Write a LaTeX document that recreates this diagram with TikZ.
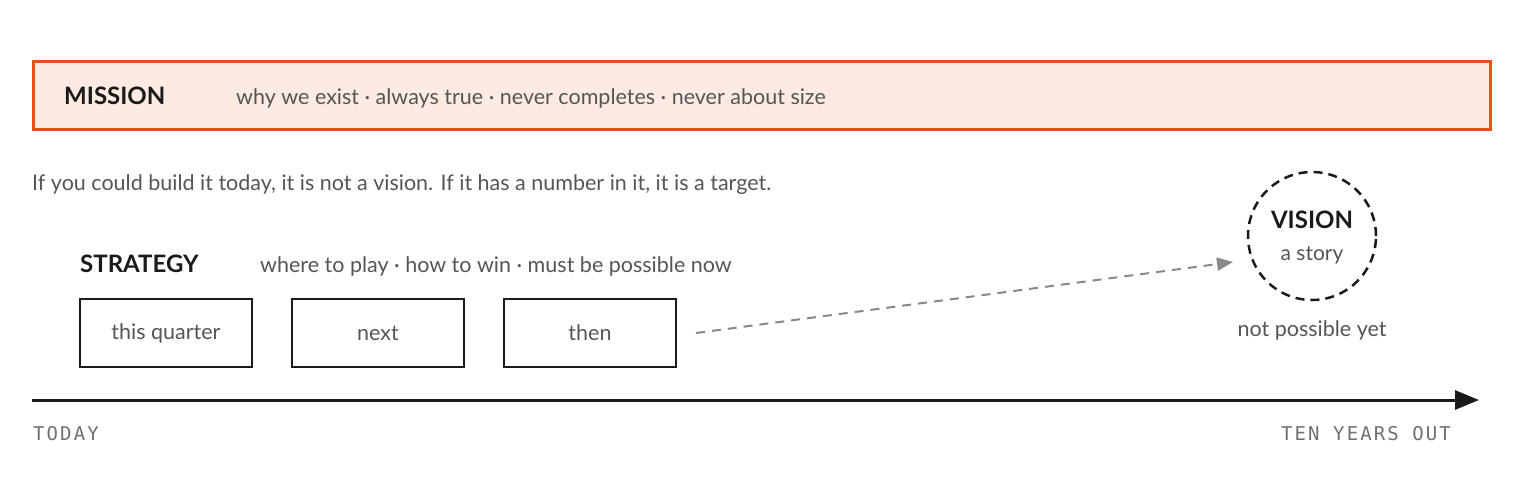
\documentclass[tikz,border=0pt]{standalone}
\usepackage{fontspec}
\setmainfont{Lato}
\newfontfamily\monof[LetterSpace=11]{DejaVu Sans Mono}
\usetikzlibrary{arrows.meta}
\definecolor{orng}{HTML}{E8501A}
\definecolor{pinkfill}{HTML}{FCEAE3}
\definecolor{ink}{HTML}{1A1A1A}
\definecolor{soft}{HTML}{555555}
\definecolor{arrowgray}{HTML}{888888}
\definecolor{monogray}{HTML}{707070}
\tikzset{
  title/.style={font=\fontsize{24}{26}\selectfont\bfseries, text=ink, anchor=base west, inner sep=0},
  sub/.style={font=\fontsize{21.5}{24}\selectfont, text=soft, anchor=base west, inner sep=0},
  stagebox/.style={draw=ink, line width=2pt, minimum width=172pt, minimum height=68pt, font=\fontsize{21.5}{24}\selectfont, text=soft},
  axislabel/.style={font=\fontsize{19}{21}\selectfont\monof, text=monogray, anchor=base west, inner sep=0},
}
\begin{document}
\begin{tikzpicture}[x=1pt,y=-1pt]
\useasboundingbox (0,0) rectangle (1520,480);
% mission
\node[draw=orng, fill=pinkfill, line width=2.5pt, minimum width=1457pt, minimum height=68pt, anchor=north west, inner sep=0] (mission) at (32,60) {};
\node[title] (mtitle) at (64,104) {MISSION};
\node[sub] (msub) at (236,104) {why we exist · always true · never completes · never about size};
% rule text
\node[sub] (rule) at (32,190) {If you could build it today, it is not a vision. If it has a number in it, it is a target.};
% strategy
\node[title] (stitle) at (80,272) {STRATEGY};
\node[sub] (ssub) at (260,272) {where to play · how to win · must be possible now};
\node[stagebox] (b1) at (166,333) {this quarter};
\node[stagebox] (b2) at (378,333) {next};
\node[stagebox] (b3) at (590,333) {then};
% vision
\node[circle, draw=ink, line width=2.5pt, dash pattern=on 9pt off 6pt, minimum size=128pt, inner sep=0] (vision) at (1312,236) {};
\node[font=\fontsize{24}{26}\selectfont\bfseries, text=ink, anchor=base, inner sep=0] (vtitle) at (1312,228) {VISION};
\node[font=\fontsize{21}{23}\selectfont, text=soft, anchor=base, inner sep=0] (vsub) at (1312,260) {a story};
\node[font=\fontsize{21.5}{24}\selectfont, text=soft, anchor=base, inner sep=0] (vnote) at (1312,336) {not possible yet};
\coordinate (dstart) at (696,333);
\coordinate (dend) at (1233,262);
\draw[arrowgray, line width=2pt, dash pattern=on 9pt off 7pt, -{Triangle[length=16pt,width=13pt]}] (dstart) -- (dend);
% axis
\coordinate (today) at (32,400);
\coordinate (future) at (1479,400);
\draw[ink, line width=3pt, -{Triangle[length=24pt,width=19pt]}] (today) -- (future);
\node[axislabel] (ltoday) at (33,440) {TODAY};
\node[axislabel, anchor=base east] (lfuture) at (1451,440) {TEN YEARS OUT};
\end{tikzpicture}
\end{document}
